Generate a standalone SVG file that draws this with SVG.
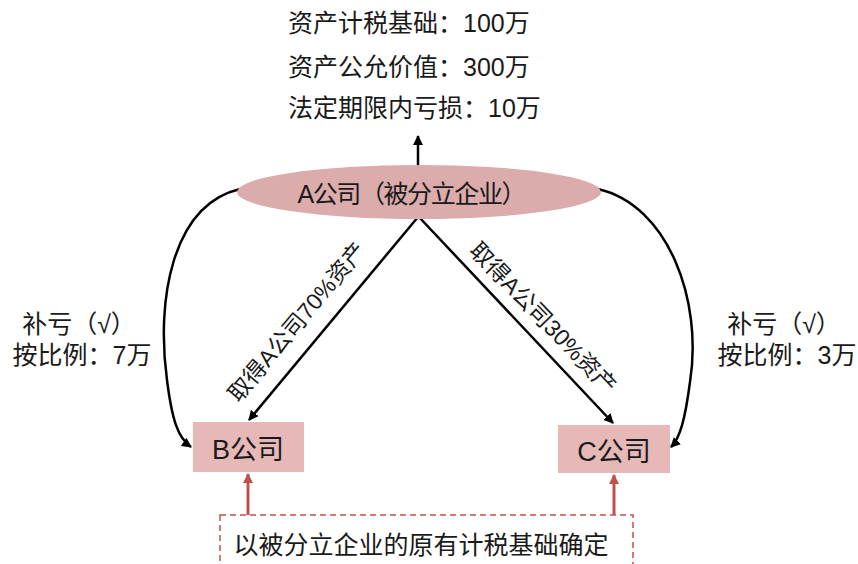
<svg xmlns="http://www.w3.org/2000/svg" width="858" height="564" viewBox="0 0 858 564">
<style>
text{font-family:"Liberation Sans","Noto Sans CJK SC",sans-serif;fill:#1a1a1a}
.t{font-size:25px}
.lbl{font-size:23px}
.blk{fill:none;stroke:#000;stroke-width:2.5}
.red{fill:none;stroke:#c0504d;stroke-width:3}
</style>
<defs>
<marker id="ah" viewBox="0 0 10 10" refX="9" refY="5" markerWidth="4" markerHeight="4" orient="auto" markerUnits="strokeWidth"><path d="M0,0 L10,5 L0,10 z" fill="#000"/></marker>
<marker id="ahr" viewBox="0 0 10 10" refX="9" refY="5" markerWidth="3.5" markerHeight="3.5" orient="auto" markerUnits="strokeWidth"><path d="M0,0 L10,5 L0,10 z" fill="#c0504d"/></marker>
</defs>
<g id="info">
<text class="t" x="288" y="32">资产计税基础：100万</text>
<text class="t" x="288" y="76">资产公允价值：300万</text>
<text class="t" x="288" y="117">法定期限内亏损：10万</text>
</g>
<g id="connectors">
<path class="blk" d="M418 166 L418 136" marker-end="url(#ah)"/>
<path class="blk" d="M418 217 L249 420" marker-end="url(#ah)"/>
<path class="blk" d="M419 217 L613 423" marker-end="url(#ah)"/>
<path class="blk" d="M240 189 C172 205 156 300 167 380 C172 420 178 438 191 447" marker-end="url(#ah)"/>
<path class="blk" d="M598 189 C668 205 703 300 690 382 C685 420 680 438 671 447" marker-end="url(#ah)"/>
<path class="red" d="M248 515 L248 474" marker-end="url(#ahr)"/>
<path class="red" d="M614 515 L614 475" marker-end="url(#ahr)"/>
<text class="lbl" transform="translate(297 322) rotate(-50)" text-anchor="middle" dominant-baseline="central">取得A公司70%资产</text>
<text class="lbl" transform="translate(543 318) rotate(46)" text-anchor="middle" dominant-baseline="central">取得A公司30%资产</text>
</g>
<g id="A">
<ellipse cx="419" cy="192" rx="182" ry="27" fill="#dcabab"/>
<text class="t" x="412" y="194" text-anchor="middle" dominant-baseline="central" textLength="229">A公司（被分立企业）</text>
</g>
<g id="B">
<rect x="193" y="422" width="111" height="50" fill="#e6b9b8"/>
<text x="248" y="450" font-size="27" text-anchor="middle" dominant-baseline="central">B公司</text>
</g>
<g id="C">
<rect x="558" y="425" width="112" height="48" fill="#e6b9b8"/>
<text x="614" y="452" font-size="27" text-anchor="middle" dominant-baseline="central">C公司</text>
</g>
<g id="leftnote">
<text class="t" x="79" y="333" text-anchor="middle">补亏（√）</text>
<text class="t" x="82" y="364" text-anchor="middle">按比例：7万</text>
</g>
<g id="rightnote">
<text class="t" x="784" y="333" text-anchor="middle">补亏（√）</text>
<text class="t" x="787" y="364" text-anchor="middle">按比例：3万</text>
</g>
<g id="basis">
<rect x="220" y="515" width="413" height="60" fill="none" stroke="#c0504d" stroke-width="1.5" stroke-dasharray="6 4"/>
<text class="t" x="421" y="554" text-anchor="middle">以被分立企业的原有计税基础确定</text>
</g>
</svg>
